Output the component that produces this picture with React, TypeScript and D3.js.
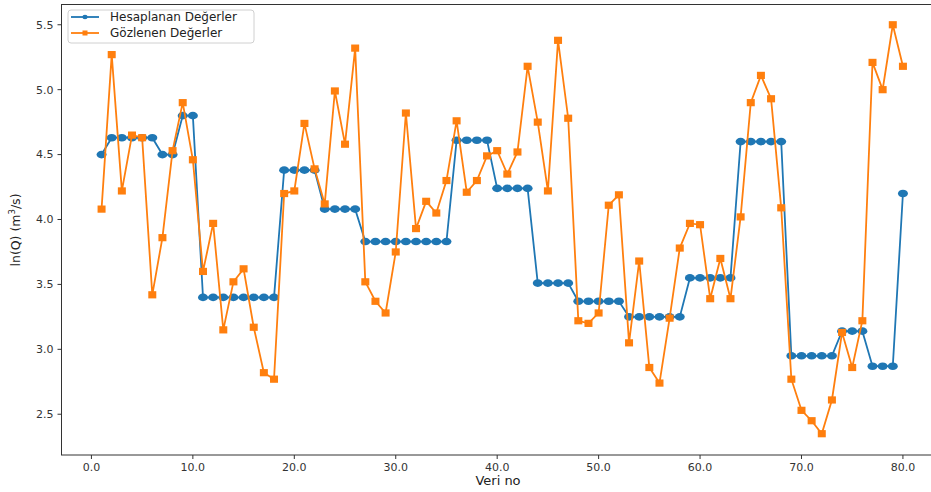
import React from "react";
import * as d3 from "d3";

const idx: number[] = d3.range(1, 81);

const hesaplanan: number[] = [
  4.50, 4.63, 4.63, 4.63, 4.63, 4.63, 4.50, 4.50, 4.80, 4.80,
  3.40, 3.40, 3.40, 3.40, 3.40, 3.40, 3.40, 3.40, 4.38, 4.38,
  4.38, 4.38, 4.08, 4.08, 4.08, 4.08, 3.83, 3.83, 3.83, 3.83,
  3.83, 3.83, 3.83, 3.83, 3.83, 4.61, 4.61, 4.61, 4.61, 4.24,
  4.24, 4.24, 4.24, 3.51, 3.51, 3.51, 3.51, 3.37, 3.37, 3.37,
  3.37, 3.37, 3.25, 3.25, 3.25, 3.25, 3.25, 3.25, 3.55, 3.55,
  3.55, 3.55, 3.55, 4.60, 4.60, 4.60, 4.60, 4.60, 2.95, 2.95,
  2.95, 2.95, 2.95, 3.14, 3.14, 3.14, 2.87, 2.87, 2.87, 4.20,
];

const gozlenen: number[] = [
  4.08, 5.27, 4.22, 4.65, 4.63, 3.42, 3.86, 4.53, 4.90, 4.46,
  3.60, 3.97, 3.15, 3.52, 3.62, 3.17, 2.82, 2.77, 4.20, 4.22,
  4.74, 4.39, 4.12, 4.99, 4.58, 5.32, 3.52, 3.37, 3.28, 3.75,
  4.82, 3.93, 4.14, 4.05, 4.30, 4.76, 4.21, 4.30, 4.49, 4.53,
  4.35, 4.52, 5.18, 4.75, 4.22, 5.38, 4.78, 3.22, 3.20, 3.28,
  4.11, 4.19, 3.05, 3.68, 2.86, 2.74, 3.24, 3.78, 3.97, 3.96,
  3.39, 3.70, 3.39, 4.02, 4.90, 5.11, 4.93, 4.09, 2.77, 2.53,
  2.45, 2.35, 2.61, 3.13, 2.86, 3.22, 5.21, 5.00, 5.50, 5.18,
];

const xTicks: number[] = [0, 10, 20, 30, 40, 50, 60, 70, 80];
const yTicks: number[] = [2.5, 3.0, 3.5, 4.0, 4.5, 5.0, 5.5];
const seriesNames: string[] = ["Hesaplanan Değerler", "Gözlenen Değerler"];

const BLUE = "#1f77b4";
const ORANGE = "#ff7f0e";
const FONT = "DejaVu Sans, sans-serif";

export default function App() {
  const W = 931;
  const H = 492;
  const left = 61.5;
  const right = 943;
  const top = 4.5;
  const bottom = 455;

  const x = d3.scaleLinear().domain([-2.95, 83.95]).range([left, right]);
  const y = d3.scaleLinear().domain([2.186, 5.656]).range([bottom, top]);

  const lineGen = d3
    .line<number>()
    .x((_, i) => x(idx[i]))
    .y((d) => y(d));

  const blueMarks = hesaplanan.map((d, i) => (
    <ellipse key={"b" + i} cx={x(idx[i])} cy={y(d)} rx={5} ry={3.8} fill={BLUE} />
  ));
  const orangeMarks = gozlenen.map((d, i) => (
    <rect key={"o" + i} x={x(idx[i]) - 4} y={y(d) - 3.6} width={8} height={7.2} fill={ORANGE} />
  ));

  return (
    <svg
      width={W}
      height={H}
      style={{ position: "absolute", left: 0, top: 0, background: "#fff" }}
      fontFamily={FONT}
    >
      <rect x={0} y={0} width={W} height={H} fill="#fff" />
      <defs>
        <clipPath id="plotclip">
          <rect x={left} y={top} width={right - left} height={bottom - top} />
        </clipPath>
      </defs>
      <g clipPath="url(#plotclip)">
        <path d={lineGen(hesaplanan) || ""} fill="none" stroke={BLUE} strokeWidth={1.8} />
        {blueMarks}
        <path d={lineGen(gozlenen) || ""} fill="none" stroke={ORANGE} strokeWidth={1.8} />
        {orangeMarks}
      </g>
      {/* spines */}
      <rect x={left} y={top} width={right - left} height={bottom - top} fill="none" stroke="#333" strokeWidth={1} />
      {/* y ticks */}
      {yTicks.map((t) => (
        <g key={"yt" + t}>
          <line x1={left - 4} x2={left} y1={y(t)} y2={y(t)} stroke="#333" strokeWidth={1} />
          <text x={left - 8} y={y(t)} dy="0.35em" textAnchor="end" fontSize={11} fill="#333">
            {t.toFixed(1)}
          </text>
        </g>
      ))}
      {/* x ticks */}
      {xTicks.map((t) => (
        <g key={"xt" + t}>
          <line x1={x(t)} x2={x(t)} y1={bottom} y2={bottom + 4} stroke="#333" strokeWidth={1} />
          <text x={x(t)} y={bottom + 16} textAnchor="middle" fontSize={11} fill="#333">
            {t.toFixed(1)}
          </text>
        </g>
      ))}
      <text x={498} y={485} textAnchor="middle" fontSize={13} fill="#222">
        Veri no
      </text>
      <text
        transform={`translate(20,230) rotate(-90)`}
        textAnchor="middle"
        fontSize={12.5}
        fill="#222"
      >
        ln(Q) (m<tspan dy="-5" fontSize={8.5}>3</tspan><tspan dy="5">/s)</tspan>
      </text>
      {/* legend */}
      <g>
        <rect x={68} y={10} width={186} height={33} rx={3} fill="#fff" fillOpacity={0.85} stroke="#d0d0d0" strokeWidth={1} />
        <line x1={71} x2={99} y1={17} y2={17} stroke={BLUE} strokeWidth={1.8} />
        <ellipse cx={85} cy={17} rx={2.6} ry={2.2} fill={BLUE} />
        <text x={110} y={17} dy="0.35em" fontSize={12} fill="#222">
          {seriesNames[0]}
        </text>
        <line x1={71} x2={99} y1={33} y2={33} stroke={ORANGE} strokeWidth={1.8} />
        <rect x={82.5} y={30.5} width={5} height={5} fill={ORANGE} />
        <text x={110} y={33} dy="0.35em" fontSize={12} fill="#222">
          {seriesNames[1]}
        </text>
      </g>
    </svg>
  );
}
